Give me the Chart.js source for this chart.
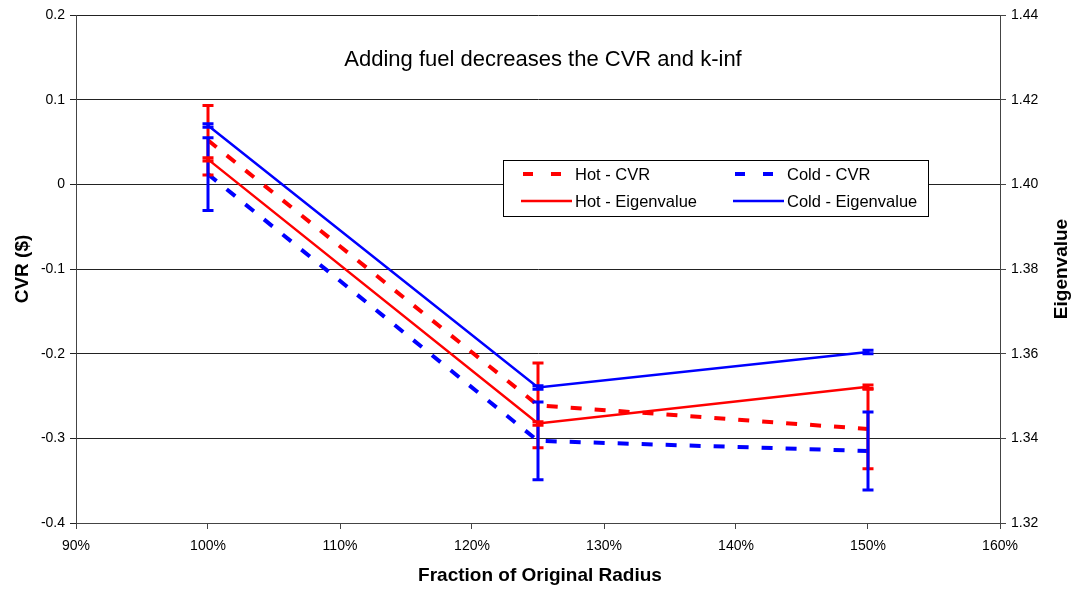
<!DOCTYPE html>
<html><head><meta charset="utf-8">
<script src="https://cdn.jsdelivr.net/npm/chart.js@4"></script>
<style>html,body{margin:0;padding:0;background:#fff}#wrap{width:1075px;height:590px}</style>
</head><body><div id="wrap"><canvas id="c" width="1075" height="590"></canvas></div>
<script>
// ---- data ----
const radius = [1.00, 1.25, 1.50];
const hotCVR = [0.052, -0.261, -0.289];
const hotCVRErr = [0.041, 0.050, 0.047];
const coldCVR = [0.012, -0.303, -0.315];
const coldCVRErr = [0.043, 0.046, 0.046];
const hotEig = [1.4059, 1.3435, 1.3522];
const hotEigErr = [0.0004, 0.0004, 0.0004];
const coldEig = [1.4139, 1.3520, 1.3604];
const coldEigErr = [0.0004, 0.0004, 0.0004];
const titleText = 'Adding fuel decreases the CVR and k-inf';
const legendLabels = ['Hot - CVR', 'Cold - CVR', 'Hot - Eigenvalue', 'Cold - Eigenvalue'];

const RED = '#ff0000', BLUE = '#0000ff';
const FONT = 'Liberation Sans, Arial, sans-serif';
const pts = (ys) => radius.map((x, i) => ({x, y: ys[i]}));

const datasets = [
  {label: legendLabels[0], data: pts(hotCVR), err: hotCVRErr, borderColor: RED, backgroundColor: RED, borderWidth: 4, borderDash: [11, 13], yAxisID: 'y'},
  {label: legendLabels[1], data: pts(coldCVR), err: coldCVRErr, borderColor: BLUE, backgroundColor: BLUE, borderWidth: 4, borderDash: [11, 13], yAxisID: 'y'},
  {label: legendLabels[2], data: pts(hotEig), err: hotEigErr, borderColor: RED, backgroundColor: RED, borderWidth: 2.5, yAxisID: 'y2'},
  {label: legendLabels[3], data: pts(coldEig), err: coldEigErr, borderColor: BLUE, backgroundColor: BLUE, borderWidth: 2.5, yAxisID: 'y2'}
];
datasets.forEach(d => { d.pointRadius = 0; d.tension = 0; d.fill = false; });

const errorBars = {
  id: 'errorBars',
  afterDatasetsDraw(chart) {
    const ctx = chart.ctx;
    const xs = chart.scales.x;
    chart.data.datasets.forEach((ds) => {
      const ys = chart.scales[ds.yAxisID];
      ctx.save();
      ctx.strokeStyle = ds.borderColor;
      ctx.lineWidth = 3;
      ds.data.forEach((p, i) => {
        const px = xs.getPixelForValue(p.x);
        const y1 = ys.getPixelForValue(p.y + ds.err[i]);
        const y2 = ys.getPixelForValue(p.y - ds.err[i]);
        ctx.beginPath();
        ctx.moveTo(px, y1); ctx.lineTo(px, y2);
        ctx.moveTo(px - 5.5, y1); ctx.lineTo(px + 5.5, y1);
        ctx.moveTo(px - 5.5, y2); ctx.lineTo(px + 5.5, y2);
        ctx.stroke();
      });
      ctx.restore();
    });
  }
};

const decor = {
  id: 'decor',
  afterDraw(chart) {
    const ctx = chart.ctx;
    ctx.save();
    // title inside plot
    ctx.fillStyle = '#000';
    ctx.font = '22px ' + FONT;
    ctx.textAlign = 'center'; ctx.textBaseline = 'middle';
    ctx.fillText(titleText, 543, 60);
    // axis titles
    ctx.font = 'bold 19px ' + FONT;
    ctx.fillText('Fraction of Original Radius', 540, 576);
    ctx.save(); ctx.translate(23, 269); ctx.rotate(-Math.PI / 2); ctx.fillText('CVR ($)', 0, 0); ctx.restore();
    ctx.save(); ctx.translate(1062, 269); ctx.rotate(-Math.PI / 2); ctx.fillText('Eigenvalue', 0, 0); ctx.restore();
    // legend box
    const lx = 503, ly = 160, lw = 425, lh = 56;
    ctx.fillStyle = '#fff';
    ctx.fillRect(lx, ly, lw, lh);
    ctx.strokeStyle = '#000'; ctx.lineWidth = 1;
    ctx.strokeRect(lx + 0.5, ly + 0.5, lw, lh);
    const items = [
      {ds: chart.data.datasets[0], x: 525, y: 174},
      {ds: chart.data.datasets[1], x: 737, y: 174},
      {ds: chart.data.datasets[2], x: 525, y: 201},
      {ds: chart.data.datasets[3], x: 737, y: 201}
    ];
    ctx.font = '16.5px ' + FONT;
    ctx.textAlign = 'left';
    items.forEach(it => {
      ctx.beginPath();
      ctx.strokeStyle = it.ds.borderColor;
      if (it.ds.borderDash) {
        ctx.lineWidth = 4;
        ctx.moveTo(it.x - 2, it.y); ctx.lineTo(it.x + 8, it.y);
        ctx.moveTo(it.x + 26, it.y); ctx.lineTo(it.x + 36, it.y);
      } else {
        ctx.lineWidth = 2.5;
        ctx.moveTo(it.x - 4, it.y); ctx.lineTo(it.x + 47, it.y);
      }
      ctx.stroke();
      ctx.fillStyle = '#000';
      ctx.fillText(it.ds.label, it.x + 50, it.y + 1);
    });
    ctx.restore();
  }
};

new Chart(document.getElementById('c'), {
  type: 'line',
  data: {datasets},
  plugins: [errorBars, decor],
  options: {
    responsive: false,
    animation: false,
    layout: {padding: {top: 15, bottom: 0, left: 0, right: 0}},
    plugins: {legend: {display: false}, tooltip: {enabled: false}},
    scales: {
      x: {
        type: 'linear', min: 0.9, max: 1.6,
        ticks: {stepSize: 0.1, color: '#000', font: {family: FONT, size: 14}, padding: 9,
          callback: v => Math.round(v * 100) + '%'},
        grid: {drawOnChartArea: false, color: '#444', tickLength: 6},
        border: {color: '#444', width: 1},
        afterFit: s => { s.height = 67; }
      },
      y: {
        position: 'left', min: -0.4, max: 0.2,
        ticks: {stepSize: 0.1, color: '#000', font: {family: FONT, size: 14}, padding: 5,
          callback: v => { const r = Math.round(v * 10) / 10; return r === 0 ? '0' : r.toString(); }},
        grid: {color: '#222', tickLength: 6},
        border: {color: '#444', width: 1},
        afterFit: s => { s.width = 76; }
      },
      y2: {
        position: 'right', min: 1.32, max: 1.44,
        ticks: {stepSize: 0.02, color: '#000', font: {family: FONT, size: 14}, padding: 5,
          callback: v => v.toFixed(2)},
        grid: {drawOnChartArea: false, color: '#444', tickLength: 6},
        border: {color: '#444', width: 1},
        afterFit: s => { s.width = 75; }
      }
    }
  }
});
</script>
</body></html>
